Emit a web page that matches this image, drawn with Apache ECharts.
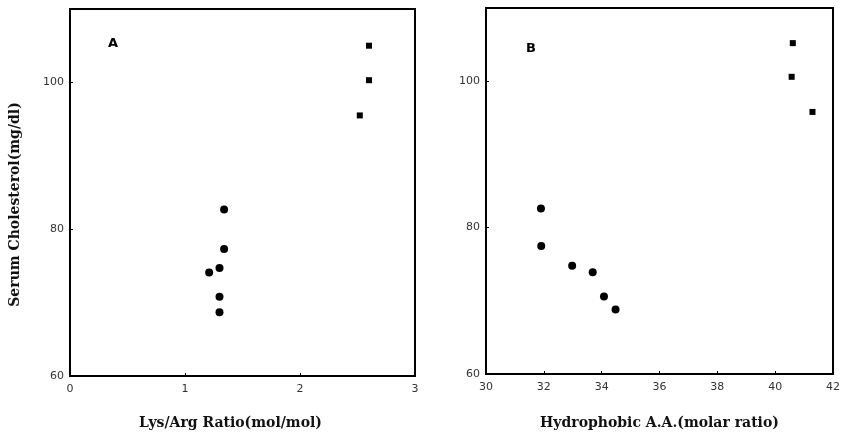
<!DOCTYPE html>
<html>
<head>
<meta charset="utf-8">
<script src="https://cdn.jsdelivr.net/npm/echarts@6/dist/echarts.min.js"></script>
<style>html,body{margin:0;padding:0;background:#fff}#c{width:844px;height:438px}</style>
</head>
<body>
<div id="c"></div>
<script>
// Panel A: Lys/Arg ratio vs serum cholesterol
const aCircles = [[1.34, 82.7], [1.34, 77.3], [1.30, 74.7], [1.21, 74.1], [1.30, 70.8], [1.30, 68.7]];
const aSquares = [[2.60, 105.0], [2.60, 100.3], [2.52, 95.5]];
// Panel B: Hydrophobic A.A. vs serum cholesterol
const bCircles = [[31.90, 82.6], [31.91, 77.5], [32.98, 74.8], [33.69, 73.9], [34.08, 70.6], [34.48, 68.8]];
const bSquares = [[40.61, 105.2], [40.57, 100.6], [41.29, 95.8]];
const yTicks = [60, 80, 100];
const aXTicks = [0, 1, 2, 3];
const bXTicks = [30, 32, 34, 36, 38, 40, 42];

const chart = echarts.init(document.getElementById('c'));
const serif = 'DejaVu Serif';
const tickLbl = { color: '#333', fontFamily: 'DejaVu Sans', fontSize: 11 };
const axisLine = { show: true, lineStyle: { color: '#000', width: 2 } };
function yAx(gi, withName) {
  return {
    type: 'value', gridIndex: gi, min: 60, max: 110, interval: 20,
    axisLine: axisLine,
    axisTick: { show: true, inside: true, length: 3, lineStyle: { color: '#000' } },
    splitLine: { show: false },
    axisLabel: Object.assign({ margin: 6, formatter: v => yTicks.includes(v) ? String(v) : '' }, tickLbl),
    name: withName ? 'Serum Cholesterol(mg/dl)' : '',
    nameLocation: 'middle', nameGap: 48,
    nameTextStyle: { fontFamily: serif, fontWeight: 'bold', fontSize: 14, color: '#111', padding: [0, 0, 0, -24] }
  };
}
function xAx(gi, min, max, interval, ticks, name, pad, gap) {
  return {
    type: 'value', gridIndex: gi, min: min, max: max, interval: interval,
    axisLine: axisLine,
    axisTick: { show: true, inside: true, length: 3, lineStyle: { color: '#000' } },
    splitLine: { show: false },
    axisLabel: Object.assign({ margin: 8, formatter: v => ticks.includes(v) ? String(v) : '' }, tickLbl),
    name: name, nameLocation: 'middle', nameGap: gap,
    nameTextStyle: { fontFamily: serif, fontWeight: 'bold', fontSize: 14, color: '#111', padding: pad }
  };
}
const mark = { color: '#000', opacity: 1 };
chart.setOption({
  animation: false,
  backgroundColor: '#fff',
  title: [
    { text: 'A', left: 103, top: 32, textStyle: { fontFamily: 'DejaVu Sans', fontWeight: 'bold', fontSize: 13, color: '#000' } },
    { text: 'B', left: 521, top: 37, textStyle: { fontFamily: 'DejaVu Sans', fontWeight: 'bold', fontSize: 13, color: '#000' } }
  ],
  grid: [
    { left: 70, top: 9, right: 429, bottom: 62, show: true, borderColor: '#000', borderWidth: 2 },
    { left: 486, top: 8, right: 11, bottom: 64, show: true, borderColor: '#000', borderWidth: 2 }
  ],
  xAxis: [
    xAx(0, 0, 3, 1, aXTicks, 'Lys/Arg Ratio(mol/mol)', [0, 24, 0, 0], 40),
    xAx(1, 30, 42, 2, bXTicks, 'Hydrophobic A.A.(molar ratio)', [0, 0, 0, 0], 42)
  ],
  yAxis: [yAx(0, true), yAx(1, false)],
  series: [
    { type: 'scatter', xAxisIndex: 0, yAxisIndex: 0, data: aCircles, symbol: 'circle', symbolSize: 8, itemStyle: mark },
    { type: 'scatter', xAxisIndex: 0, yAxisIndex: 0, data: aSquares, symbol: 'rect', symbolSize: 6, itemStyle: mark },
    { type: 'scatter', xAxisIndex: 1, yAxisIndex: 1, data: bCircles, symbol: 'circle', symbolSize: 8, itemStyle: mark },
    { type: 'scatter', xAxisIndex: 1, yAxisIndex: 1, data: bSquares, symbol: 'rect', symbolSize: 6, itemStyle: mark }
  ]
});
</script>
</body>
</html>
